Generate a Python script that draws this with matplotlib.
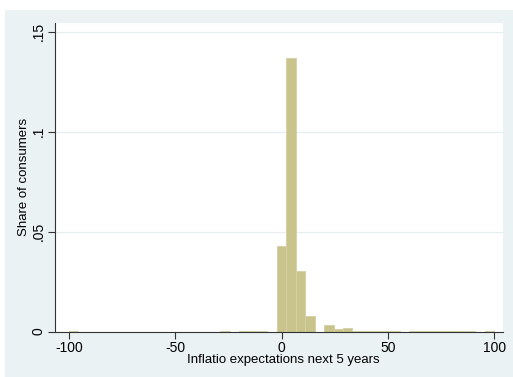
import matplotlib.pyplot as plt
from matplotlib.patches import Rectangle
import numpy as np

# Histogram of 5-year inflation expectations, 45 bins over [-100, 100]
bin_lo = -100
bin_hi = 100
n_bins = 45

# density per bin (bin index -> height), empty bins are zero
density = np.zeros(n_bins)
filled = {
    0: 0.0004,
    16: 0.0005,
    18: 0.0003, 19: 0.0003, 20: 0.0003,
    22: 0.0428, 23: 0.1366, 24: 0.0303, 25: 0.0078,
    27: 0.0033, 28: 0.0013, 29: 0.0016,
    30: 0.0003, 31: 0.0003, 32: 0.0003, 33: 0.0003, 34: 0.0003,
    36: 0.0003, 37: 0.0003, 38: 0.0003, 39: 0.0003, 40: 0.0003,
    41: 0.0003, 42: 0.0003,
    44: 0.0004,
}
for k, v in filled.items():
    density[k] = v

x_ticks = [-100, -50, 0, 50, 100]
y_ticks = [0, 0.05, 0.1, 0.15]
y_tick_labels = ["0", ".05", ".1", ".15"]

plt.rcParams['font.family'] = ['Liberation Sans', 'DejaVu Sans']

fig = plt.figure(figsize=(5.13, 3.77), dpi=100)
fig.patch.set_facecolor('white')
# graph region background, leaves a thin white strip on the left and top
fig.add_artist(Rectangle((5 / 513, 0), 1, 367 / 377, transform=fig.transFigure,
                         facecolor='#eaf2f3', edgecolor='none', zorder=-5))

ax = fig.add_axes([55 / 513, 45.5 / 377, 448 / 513, 308.5 / 377])
ax.set_zorder(2)
ax.set_facecolor('white')

width = (bin_hi - bin_lo) / n_bins
edges = bin_lo + width * np.arange(n_bins)
ax.bar(edges, density, width=width, align='edge', color='#c9c38c',
       edgecolor='#d6d1a6', linewidth=0.7, zorder=2)

ax.set_xlim(-106.6, 104.2)
ax.set_ylim(0, 0.15425)

for y in y_ticks[1:]:
    ax.axhline(y, color='#e6eef0', linewidth=0.9, zorder=1)

ax.set_xticks(x_ticks)
ax.set_xticklabels([str(t) for t in x_ticks], fontsize=10)
ax.set_yticks(y_ticks)
ax.set_yticklabels(y_tick_labels, fontsize=10, rotation=90, va='center')
ax.tick_params(direction='out', length=5, width=0.8, color='#333333', pad=2)

for side in ['top', 'right']:
    ax.spines[side].set_visible(False)
for side in ['left', 'bottom']:
    ax.spines[side].set_color('#333333')
    ax.spines[side].set_linewidth(0.8)

ax.set_xlabel('Inflatio expectations next 5 years', fontsize=9.5, va='center')
ax.set_ylabel('Share of consumers', fontsize=9.5, va='center')
ax.xaxis.set_label_coords(0.509, -0.094)
ax.yaxis.set_label_coords(-0.07, 0.5)

fig.savefig('out.png', dpi=100)
